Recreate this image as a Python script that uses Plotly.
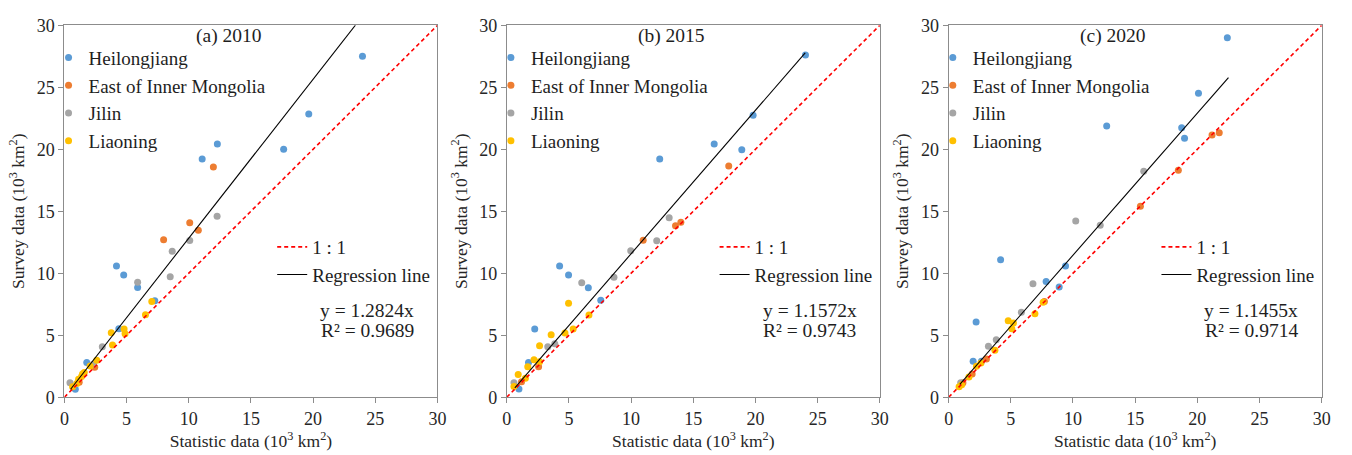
import plotly.graph_objects as go

# ---------------- data ----------------
panel_titles = ["(a) 2010", "(b) 2015", "(c) 2020"]
series_names = ["Heilongjiang", "East of Inner Mongolia", "Jilin", "Liaoning"]
series_colors = ["#5B9BD5", "#ED7D31", "#A5A5A5", "#FFC000"]

# 2010
hlj_2010_x = [0.88, 1.8, 4.38, 7.27, 5.89, 4.19, 4.77, 11.08, 12.3, 17.63, 19.65, 23.97]
hlj_2010_y = [0.64, 2.8, 5.53, 7.79, 8.84, 10.59, 9.85, 19.22, 20.43, 20.0, 22.85, 27.5]
eim_2010_x = [1.19, 2.44, 7.98, 10.08, 10.77, 11.98]
eim_2010_y = [1.2, 2.42, 12.7, 14.08, 13.47, 18.56]
jl_2010_x = [0.45, 2.33, 3.05, 5.89, 8.51, 8.67, 10.08, 12.28]
jl_2010_y = [1.16, 2.65, 4.06, 9.28, 9.71, 11.77, 12.64, 14.6]
ln_2010_x = [0.66, 1.0, 1.14, 1.38, 1.46, 1.6, 2.07, 2.6, 3.77, 3.87, 4.8, 4.88, 6.52, 7.03]
ln_2010_y = [0.85, 1.1, 1.45, 1.67, 1.88, 2.0, 2.52, 2.98, 5.19, 4.22, 5.5, 5.11, 6.66, 7.71]

# 2015
hlj_2015_x = [0.98, 1.75, 2.25, 4.25, 4.97, 6.56, 7.56, 12.3, 16.68, 18.9, 19.81, 24.02]
hlj_2015_y = [0.66, 2.8, 5.5, 10.58, 9.86, 8.83, 7.83, 19.22, 20.43, 19.97, 22.75, 27.6]
eim_2015_x = [1.19, 2.56, 10.97, 13.57, 14.0, 17.85]
eim_2015_y = [1.25, 2.46, 12.67, 13.83, 14.11, 18.65]
jl_2015_x = [0.58, 3.3, 3.86, 6.03, 8.62, 9.97, 12.06, 13.06]
jl_2015_y = [1.17, 4.06, 4.32, 9.24, 9.68, 11.82, 12.62, 14.48]
ln_2015_x = [0.58, 0.92, 1.5, 1.69, 2.19, 2.64, 2.64, 3.57, 4.68, 4.97, 5.34, 6.61]
ln_2015_y = [0.87, 1.84, 1.53, 2.46, 3.03, 2.85, 4.16, 5.04, 5.17, 7.57, 5.5, 6.64]

# 2020
hlj_2020_x = [1.97, 2.64, 2.21, 4.18, 7.84, 8.89, 9.4, 12.71, 18.74, 18.97, 20.09, 22.41]
hlj_2020_y = [2.91, 2.91, 6.07, 11.08, 9.33, 8.89, 10.59, 21.87, 21.74, 20.89, 24.52, 28.99]
eim_2020_x = [1.15, 1.89, 3.04, 7.7, 15.42, 18.47, 21.18, 21.76]
eim_2020_y = [1.16, 1.87, 3.08, 7.71, 15.4, 18.3, 21.15, 21.33]
jl_2020_x = [0.97, 3.2, 3.83, 5.85, 6.78, 10.22, 12.19, 15.69]
jl_2020_y = [1.16, 4.11, 4.63, 6.86, 9.15, 14.21, 13.88, 18.22]
ln_2020_x = [0.84, 1.05, 1.63, 2.24, 2.6, 3.72, 4.79, 5.21, 5.08, 6.94, 7.6]
ln_2020_y = [0.85, 1.0, 1.62, 2.49, 2.75, 3.78, 6.17, 5.99, 5.53, 6.73, 7.65]

reg_slopes = [1.2824, 1.1572, 1.1455]
reg_r2 = ["0.9689", "0.9743", "0.9714"]
reg_x_span = [[0.5, 23.4], [0.65, 24.0], [0.9, 22.5]]
one_to_one = [0, 30]

axis_range = [0, 30]
tick_step = 5

panel_data = [
    [(hlj_2010_x, hlj_2010_y), (eim_2010_x, eim_2010_y), (jl_2010_x, jl_2010_y), (ln_2010_x, ln_2010_y)],
    [(hlj_2015_x, hlj_2015_y), (eim_2015_x, eim_2015_y), (jl_2015_x, jl_2015_y), (ln_2015_x, ln_2015_y)],
    [(hlj_2020_x, hlj_2020_y), (eim_2020_x, eim_2020_y), (jl_2020_x, jl_2020_y), (ln_2020_x, ln_2020_y)],
]

# ---------------- layout geometry ----------------
W, H = 1352, 455
FONT = "Liberation Serif"
TXT = "#1e1e1e"
panel_left_px = [60, 507, 953.5]
panel_w_px = 377
plot_top_px, plot_bottom_px = 16, 405

def px_x(p):
    return p / W

def px_y(p):
    return 1 - p / H

fig = go.Figure()
layout = dict(
    width=W, height=H,
    margin=dict(l=0, r=0, t=0, b=0),
    paper_bgcolor="white", plot_bgcolor="white",
    font=dict(family=FONT, size=16, color=TXT),
    annotations=[],
)

for i in range(3):
    xa = "x" if i == 0 else f"x{i+1}"
    ya = "y" if i == 0 else f"y{i+1}"
    leg_a = "legend" if i == 0 else f"legend{2*i+1}"
    leg_b = f"legend{2*i+2}"
    for (sx, sy), name, col in zip(panel_data[i], series_names, series_colors):
        fig.add_trace(go.Scatter(
            x=sx, y=sy, mode="markers", name=name,
            marker=dict(color=col, size=7, line=dict(width=0)),
            xaxis=xa, yaxis=ya, legend=leg_a,
        ))
    fig.add_trace(go.Scatter(
        x=one_to_one, y=one_to_one, mode="lines", name="1 : 1",
        line=dict(color="#FF0000", width=1.6, dash="4px,3px"),
        xaxis=xa, yaxis=ya, legend=leg_b,
    ))
    rx = reg_x_span[i]
    fig.add_trace(go.Scatter(
        x=rx, y=[reg_slopes[i] * v for v in rx], mode="lines", name="Regression line",
        line=dict(color="#000000", width=1.1),
        xaxis=xa, yaxis=ya, legend=leg_b,
    ))

    left = panel_left_px[i]
    dom = [px_x(left), px_x(left + panel_w_px)]
    axis_common = dict(
        range=axis_range, dtick=tick_step, showgrid=False, zeroline=False,
        showline=True, linecolor="#8C8C8C", linewidth=1, mirror=True,
        ticks="outside", ticklen=5, tickcolor="#8C8C8C",
        tickfont=dict(family=FONT, size=18, color="#262626"),
    )
    xkey = "xaxis" if i == 0 else f"xaxis{i+1}"
    ykey = "yaxis" if i == 0 else f"yaxis{i+1}"
    layout[xkey] = dict(axis_common, domain=dom, anchor=ya,
                        title=dict(text="Statistic data (10<sup>3</sup> km<sup>2</sup>)",
                                   font=dict(family=FONT, size=17.5, color="#262626"), standoff=2))
    layout[ykey] = dict(axis_common, domain=[px_y(plot_bottom_px), px_y(plot_top_px)], anchor=xa,
                        title=dict(text="Survey data (10<sup>3</sup> km<sup>2</sup>)",
                                   font=dict(family=FONT, size=17.5, color="#262626"), standoff=7))

    layout[leg_a] = dict(
        x=px_x(left - 16), y=px_y(30), xanchor="left", yanchor="top",
        bgcolor="rgba(0,0,0,0)", borderwidth=0,
        font=dict(family=FONT, size=19, color=TXT),
    )
    layout[leg_b] = dict(
        x=px_x(left + 210), y=px_y(228), xanchor="left", yanchor="top",
        bgcolor="rgba(0,0,0,0)", borderwidth=0,
        font=dict(family=FONT, size=19, color=TXT),
    )

    layout["annotations"].append(dict(
        text=panel_titles[i], x=px_x(left + 166), y=px_y(27), xref="paper", yref="paper",
        xanchor="center", yanchor="middle", showarrow=False,
        font=dict(family=FONT, size=19.5, color=TXT)))
    layout["annotations"].append(dict(
        text=f"y = {reg_slopes[i]:.4f}x",
        x=px_x(left + 306), y=px_y(314), xref="paper", yref="paper",
        xanchor="center", yanchor="middle", showarrow=False,
        font=dict(family=FONT, size=19.5, color=TXT)))
    layout["annotations"].append(dict(
        text=f"R² = {reg_r2[i]}",
        x=px_x(left + 306), y=px_y(335), xref="paper", yref="paper",
        xanchor="center", yanchor="middle", showarrow=False,
        font=dict(family=FONT, size=19.5, color=TXT)))

fig.update_layout(**layout)
fig.write_html("out.html")
